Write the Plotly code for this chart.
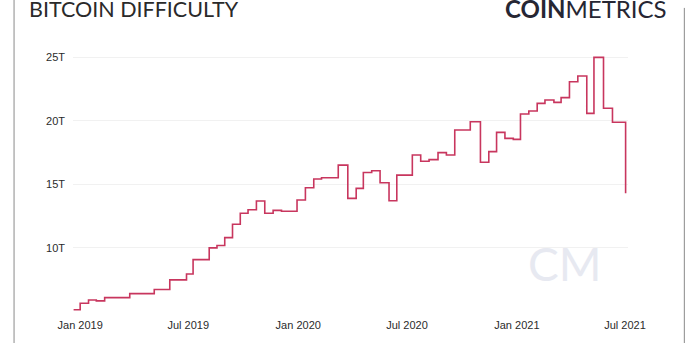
import plotly.graph_objects as go

# Bitcoin mining difficulty (trillions), value in effect from each date
dates = [
    "2018-12-21", "2019-01-01", "2019-01-15", "2019-01-28", "2019-02-11",
    "2019-03-25", "2019-05-05", "2019-05-31", "2019-06-28", "2019-07-09",
    "2019-08-05", "2019-08-18", "2019-08-31", "2019-09-13", "2019-09-26",
    "2019-10-09", "2019-10-23", "2019-11-06", "2019-11-20", "2019-12-04",
    "2019-12-30", "2020-01-13", "2020-01-27", "2020-02-09", "2020-03-08",
    "2020-03-24", "2020-04-07", "2020-04-19", "2020-05-03", "2020-05-17",
    "2020-06-01", "2020-06-14", "2020-07-10", "2020-07-24", "2020-08-07",
    "2020-08-22", "2020-09-05", "2020-09-19", "2020-10-15", "2020-11-01",
    "2020-11-15", "2020-11-28", "2020-12-12", "2020-12-26", "2021-01-07",
    "2021-01-21", "2021-02-04", "2021-02-17", "2021-03-04", "2021-03-16",
    "2021-03-30", "2021-04-13", "2021-04-28", "2021-05-10", "2021-05-26",
    "2021-06-10", "2021-07-02",
]
difficulty_t = [
    5.11, 5.62, 5.88, 5.81, 6.06,
    6.38, 6.70, 7.46, 7.93, 9.06,
    9.99, 10.18, 10.80, 11.85, 12.72,
    13.00, 13.69, 12.72, 12.95, 12.88,
    13.76, 14.73, 15.42, 15.52, 16.52,
    13.89, 14.68, 15.94, 16.07, 15.13,
    13.71, 15.73, 17.31, 16.82, 16.95,
    17.50, 17.31, 19.29, 19.94, 16.74,
    17.58, 19.10, 18.63, 18.55, 20.55,
    20.79, 21.39, 21.65, 21.47, 21.84,
    23.10, 23.55, 20.60, 25.02, 21.00,
    19.90, 14.29,
]

y_ticks = [10, 15, 20, 25]
y_tick_labels = ["10T", "15T", "20T", "25T"]
x_range = ["2018-12-20", "2021-07-06"]
y_range = [4.85, 25.6]

LINE_COLOR = "#c8365e"
TEXT_COLOR = "#2b2b2b"

fig = go.Figure()
fig.add_trace(go.Scatter(
    x=dates, y=difficulty_t, mode="lines",
    line=dict(color=LINE_COLOR, width=1.6, shape="hv"),
    hoverinfo="x+y", showlegend=False,
))

fig.update_layout(
    width=700, height=343,
    margin=dict(l=73, r=72, t=50, b=30),
    paper_bgcolor="white", plot_bgcolor="white",
    font=dict(family="Liberation Sans, Arial, sans-serif", size=11, color=TEXT_COLOR),
    xaxis=dict(
        range=x_range, type="date", dtick="M6", tick0="2019-01-01",
        tickformat="%b %Y", showgrid=False, zeroline=False, showline=False,
        ticks="", ticklabelstandoff=4, tickfont=dict(size=11, color=TEXT_COLOR),
    ),
    yaxis=dict(
        range=y_range, tickmode="array", tickvals=y_ticks, ticktext=y_tick_labels,
        showgrid=True, gridcolor="#f1f1f1", gridwidth=1,
        zeroline=False, showline=False, ticks="", ticklabelstandoff=7,
        tickfont=dict(size=11, color=TEXT_COLOR),
    ),
)

# Title
fig.add_annotation(
    xref="paper", yref="paper", x=-0.082, y=1.156,
    xanchor="left", yanchor="middle", showarrow=False,
    text="BITCOIN DIFFICULTY",
    font=dict(family="Lato, sans-serif", size=21.5, color="#2a2a2a"),
)

# Brand wordmark, top right
fig.add_annotation(
    xref="paper", yref="paper", x=1.0745, y=1.156,
    xanchor="right", yanchor="middle", showarrow=False,
    text="<b>COIN</b>METRICS",
    font=dict(family="Lato, sans-serif", size=24, color="#262633"),
)

# Faint monogram watermark inside the plot
fig.add_annotation(
    xref="paper", yref="paper", x=0.8855, y=0.19,
    xanchor="center", yanchor="middle", showarrow=False,
    text="CM",
    font=dict(family="Lato, sans-serif", size=46, color="#e7e9f1"),
)

# Thin frame rules at the left and right edges
fig.add_shape(type="line", xref="paper", yref="paper",
              x0=-0.1062, x1=-0.1062, y0=-0.12, y1=1.2,
              line=dict(color="#8a8a8a", width=1))
fig.add_shape(type="line", xref="paper", yref="paper",
              x0=1.1015, x1=1.1015, y0=-0.12, y1=1.16,
              line=dict(color="#8a8a8a", width=1))

fig.write_html("out.html")
